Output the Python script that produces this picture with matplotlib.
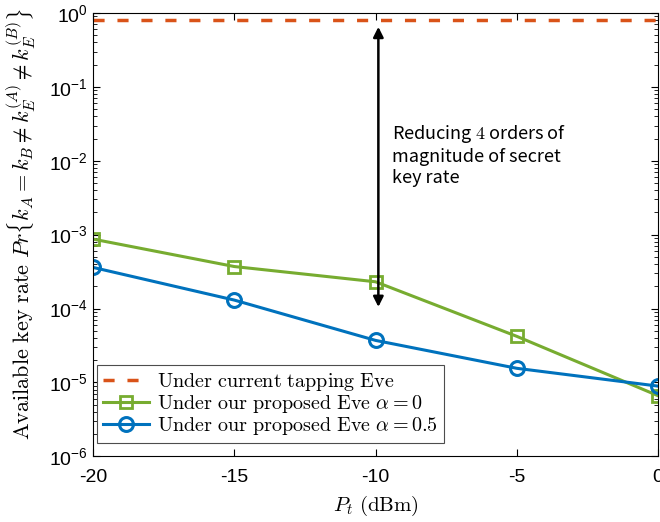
import matplotlib
matplotlib.use('Agg')
import matplotlib.pyplot as plt

plt.rcParams['mathtext.fontset'] = 'cm'
plt.rcParams['font.family'] = ['Liberation Sans', 'DejaVu Sans']

pt = [-20, -15, -10, -5, 0]
tapping = [0.8, 0.8, 0.8, 0.8, 0.8]
alpha0 = [8.7e-4, 3.7e-4, 2.3e-4, 4.2e-5, 6.6e-6]
alpha05 = [3.6e-4, 1.3e-4, 3.7e-5, 1.55e-5, 8.9e-6]

fig = plt.figure(figsize=(6.6, 5.22), dpi=100)
ax = fig.add_axes([0.141, 0.126, 0.856, 0.849])

ax.plot(pt, tapping, '--', color='#D95319', lw=2.5, dashes=(3.2, 3.7),
        label=r'$\mathrm{Under\ current\ tapping\ Eve}$')
ax.plot(pt, alpha0, '-s', color='#77AC30', lw=2.2, ms=8, mfc='none', mew=2,
        label=r'$\mathrm{Under\ our\ proposed\ Eve}\ \alpha=0$')
ax.plot(pt, alpha05, '-o', color='#0072BD', lw=2.2, ms=10, mfc='none', mew=2.2,
        label=r'$\mathrm{Under\ our\ proposed\ Eve}\ \alpha=0.5$')

ax.set_yscale('log')
ax.set_ylim(1e-6, 1)
ax.set_xlim(-20, 0)
ax.set_xticks(pt)
ax.set_xticklabels(['-20', '-15', '-10', '-5', '0'])
ax.tick_params(which='both', direction='in', top=True, right=True, labelsize=14)
ax.tick_params(axis='x', pad=9)
ax.tick_params(which='major', length=5)
ax.tick_params(which='minor', length=3)

ax.set_xlabel(r'$P_t\ \mathrm{(dBm)}$', fontsize=15, labelpad=6)
ax.set_ylabel(r'$\mathrm{Available\ key\ rate}\ Pr\{k_A=k_B\neq k_E^{(A)}\neq k_E^{(B)}\}$',
              fontsize=16)
ax.yaxis.set_label_coords(-0.097, 0.525)

ax.annotate('', xy=(-9.9, 1.05e-4), xytext=(-9.9, 0.65),
            arrowprops=dict(arrowstyle='<|-|>', color='black', lw=1.8,
                            mutation_scale=15, shrinkA=0, shrinkB=0))
ax.text(-9.4, 0.012, 'Reducing $4$ orders of\nmagnitude of secret\nkey rate',
        fontsize=13, family=['Noto Sans CJK SC', 'DejaVu Sans'],
        va='center', ha='left', linespacing=1.2)

leg = ax.legend(loc='lower left', bbox_to_anchor=(0.007, 0.029), fontsize=14.5,
                fancybox=False, edgecolor='0.3', framealpha=1, borderaxespad=0,
                handlelength=2.3, borderpad=0.3, labelspacing=0.0, handletextpad=0.4)
leg.get_frame().set_linewidth(0.8)

fig.savefig('out.png', dpi=100)
